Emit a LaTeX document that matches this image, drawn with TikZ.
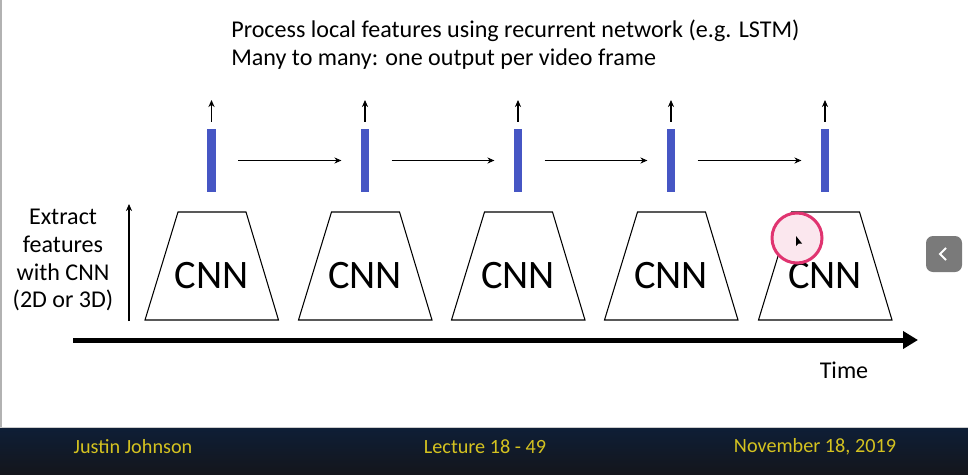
\documentclass[tikz,border=0pt]{standalone}
\usepackage{fontspec}
\setmainfont{Carlito}
\usetikzlibrary{arrows.meta}

\definecolor{barblue}{RGB}{70,86,196}
\definecolor{foottop}{RGB}{14,30,54}
\definecolor{footbot}{RGB}{20,22,28}
\definecolor{footyellow}{RGB}{212,194,32}
\definecolor{ringpink}{RGB}{224,52,112}
\definecolor{btngray}{RGB}{122,122,122}

\tikzset{
  feat/.style={fill=barblue, minimum width=0.17cm, minimum height=1.26cm, inner sep=0pt},
  cnnbox/.style={line width=0.6pt},
  cnnlbl/.style={font=\fontsize{23}{26}\selectfont},
  txt/.style={font=\fontsize{13.7}{15.9}\selectfont},
  foot/.style={text=footyellow, font=\fontsize{11.5}{13}\selectfont},
  outarr/.style={-{Stealth[length=4pt,width=3.5pt]}, line width=0.6pt},
  hidarr/.style={-{Stealth[length=4pt,width=3.5pt]}, line width=0.6pt, shorten <=0.44cm, shorten >=0.38cm}
}

\begin{document}
\begin{tikzpicture}[x=0.02cm, y=-0.02cm]
            \useasboundingbox (0,0) rectangle (968,474);
            \fill[white] (0,0) rectangle (968,474);
            \draw[gray!60, line width=0.04cm] (1,0) -- (1,427);

            % footer
            \shade[top color=foottop, bottom color=footbot] (0,428) rectangle (968,474);
            \draw[gray!40, line width=0.03cm] (0,427.5) -- (968,427.5);
            \node[foot] (author) at (133,447) {Justin Johnson};
            \node[foot] (lecture) at (485,447) {Lecture 18 - 49};
            \node[foot] (date) at (815,447) {November 18, 2019};

            % title
            \node[txt, anchor=west, inner sep=0pt] (title1) at (231,31) {Process local features using recurrent network (e.g. LSTM)};
            \node[txt, anchor=west, inner sep=0pt] (title2) at (231,59) {Many to many: one output per video frame};

            % CNNs
            \draw[cnnbox] (145,320) -- ++(33,-108) -- ++(68,0) -- ++(32.5,108) -- cycle;
            \draw[cnnbox] (298.5,320) -- ++(33,-108) -- ++(68,0) -- ++(32.5,108) -- cycle;
            \draw[cnnbox] (451.5,320) -- ++(33,-108) -- ++(68,0) -- ++(32.5,108) -- cycle;
            \draw[cnnbox] (604.5,320) -- ++(33,-108) -- ++(68,0) -- ++(32.5,108) -- cycle;
            \draw[cnnbox] (758.5,320) -- ++(33,-108) -- ++(68,0) -- ++(32.5,108) -- cycle;

            \node[cnnlbl] (cnn1) at (211.5,276) {CNN};
            \node[cnnlbl] (cnn2) at (365,276) {CNN};
            \node[cnnlbl] (cnn3) at (518,276) {CNN};
            \node[cnnlbl] (cnn4) at (671,276) {CNN};
            \node[cnnlbl] (cnn5) at (825,276) {CNN};

            % recurrent features
            \node[feat] (bar1) at (211.5,160.5) {};
            \node[feat] (bar2) at (365,160.5) {};
            \node[feat] (bar3) at (518,160.5) {};
            \node[feat] (bar4) at (671,160.5) {};
            \node[feat] (bar5) at (825,160.5) {};

            \draw[hidarr] (bar1) -- (bar2);
            \draw[hidarr] (bar2) -- (bar3);
            \draw[hidarr] (bar3) -- (bar4);
            \draw[hidarr] (bar4) -- (bar5);

            \coordinate (out1) at (211.5,100);
            \coordinate (out2) at (365,100);
            \coordinate (out3) at (518,100);
            \coordinate (out4) at (671,100);
            \coordinate (out5) at (825,100);
            \draw[outarr, shorten <=0.14cm] (bar1.north) -- (out1);
            \draw[outarr, shorten <=0.14cm] (bar2.north) -- (out2);
            \draw[outarr, shorten <=0.14cm] (bar3.north) -- (out3);
            \draw[outarr, shorten <=0.14cm] (bar4.north) -- (out4);
            \draw[outarr, shorten <=0.14cm] (bar5.north) -- (out5);

            % left axis
            \node[txt, align=center] (extract) at (63,260) {Extract\\features\\with CNN\\(2D or 3D)};
            \coordinate (up0) at (129,321);
            \coordinate (up1) at (129,204);
            \draw[outarr] (up0) -- (up1);

            % time axis
            \coordinate (t0) at (73,340);
            \coordinate (t1) at (918,340);
            \draw[line width=0.1cm, -{Triangle[length=0.3cm,width=0.34cm]}] (t0) -- (t1);
            \node[txt] (time) at (844,370) {Time};

            % cursor highlight
            \draw[ringpink, line width=0.06cm, fill=ringpink!12] (797,238) circle (0.5cm);
            \fill (796,236) -- ++(0,10) -- ++(2.5,-2.5) -- ++(3.5,0) -- cycle;

            % side button
            \fill[btngray, rounded corners=0.14cm] (926,236) rectangle (962,272);
            \draw[white, line width=0.04cm] (946,248) -- (940,254) -- (946,260);
        \end{tikzpicture}
\end{document}
